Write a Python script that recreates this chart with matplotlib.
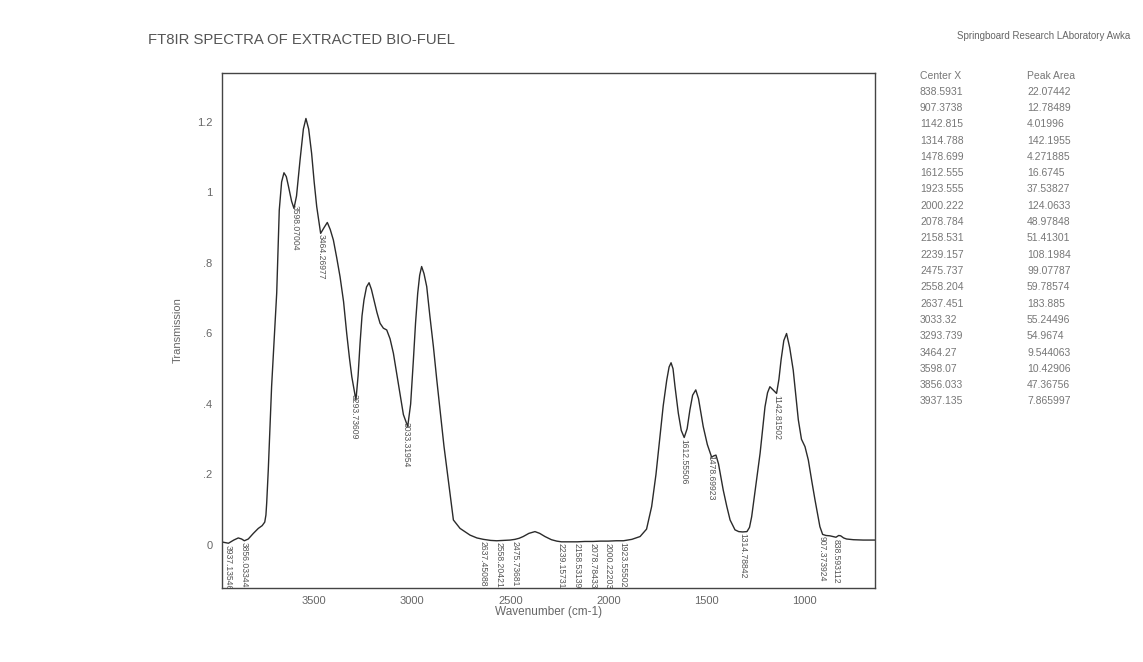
import matplotlib
matplotlib.use("Agg")
import matplotlib.pyplot as plt
import numpy as np

plt.rcParams['font.family'] = ['Liberation Sans', 'DejaVu Sans']

# spectrum (wavenumber, transmission)
wavenumber = [3965, 3937, 3910, 3887, 3870, 3856, 3836, 3810, 3785, 3765,
              3752, 3746, 3742, 3734, 3725, 3717, 3691, 3678, 3666, 3654,
              3642, 3632, 3615, 3603, 3590, 3572, 3555, 3542, 3528, 3513,
              3500, 3487, 3467, 3450, 3433, 3418, 3402, 3385, 3368, 3350,
              3334, 3320, 3308, 3287, 3276, 3266, 3256, 3246, 3233, 3220,
              3208, 3195, 3180, 3164, 3147, 3130, 3113, 3096, 3080, 3062,
              3045, 3023, 3008, 2994, 2983, 2972, 2962, 2952, 2940, 2926,
              2910, 2892, 2875, 2858, 2838, 2816, 2790, 2756, 2705, 2670,
              2637, 2600, 2569, 2530, 2501, 2476, 2455, 2434, 2405, 2374,
              2350, 2323, 2290, 2263, 2239, 2200, 2158, 2120, 2078, 2040,
              2000, 1960, 1923, 1880, 1838, 1805, 1779, 1757, 1737, 1720,
              1702, 1690, 1680, 1670, 1660, 1643, 1628, 1613, 1598, 1584,
              1570, 1554, 1540, 1528, 1516, 1495, 1473, 1462, 1451, 1438,
              1414, 1396, 1379, 1354, 1335, 1315, 1293, 1280, 1269, 1250,
              1226, 1212, 1201, 1188, 1176, 1160, 1142, 1130, 1119, 1105,
              1091, 1075, 1057, 1043, 1031, 1015, 997, 980, 962, 946,
              932, 921, 907, 890, 870, 855, 839, 825, 815, 800,
              785, 750, 700, 640]
transmission = [0.008, 0.005, 0.014, 0.020, 0.017, 0.012, 0.017, 0.033, 0.047, 0.055,
                0.065, 0.085, 0.120, 0.213, 0.340, 0.450, 0.715, 0.950, 1.030, 1.056,
                1.045, 1.020, 0.975, 0.955, 0.990, 1.092, 1.180, 1.210, 1.180, 1.111,
                1.030, 0.960, 0.884, 0.900, 0.915, 0.895, 0.865, 0.815, 0.761, 0.690,
                0.600, 0.530, 0.477, 0.411, 0.480, 0.572, 0.650, 0.695, 0.732, 0.744,
                0.725, 0.695, 0.660, 0.629, 0.615, 0.610, 0.585, 0.544, 0.490, 0.430,
                0.370, 0.336, 0.400, 0.525, 0.630, 0.714, 0.765, 0.790, 0.770, 0.733,
                0.650, 0.563, 0.470, 0.383, 0.280, 0.184, 0.071, 0.047, 0.028, 0.020,
                0.016, 0.013, 0.012, 0.013, 0.014, 0.016, 0.019, 0.024, 0.033, 0.038,
                0.033, 0.024, 0.015, 0.011, 0.009, 0.009, 0.009, 0.010, 0.010, 0.011,
                0.011, 0.012, 0.012, 0.016, 0.024, 0.045, 0.109, 0.200, 0.307, 0.395,
                0.468, 0.505, 0.517, 0.500, 0.450, 0.374, 0.325, 0.305, 0.330, 0.383,
                0.425, 0.440, 0.415, 0.375, 0.336, 0.285, 0.249, 0.253, 0.255, 0.230,
                0.156, 0.110, 0.071, 0.043, 0.038, 0.037, 0.038, 0.050, 0.080, 0.160,
                0.260, 0.335, 0.392, 0.432, 0.449, 0.440, 0.430, 0.470, 0.525, 0.580,
                0.600, 0.560, 0.496, 0.420, 0.355, 0.300, 0.279, 0.241, 0.180, 0.128,
                0.085, 0.052, 0.030, 0.027, 0.026, 0.024, 0.022, 0.027, 0.026, 0.020,
                0.017, 0.015, 0.014, 0.014]

# minima labelled on the trace
min_pos = [3937.13546, 3856.03344, 3598.07004, 3464.26977, 3293.73609, 3033.31954,
           2637.45088, 2558.20421, 2475.73681, 2239.15731, 2158.53139, 2078.78433,
           2000.22203, 1923.55502, 1612.55506, 1478.69923, 1314.78842, 1142.81502,
           907.373924, 838.593112]
min_text = ['3937.13546', '3856.03344', '3598.07004', '3464.26977', '3293.73609',
            '3033.31954', '2637.45088', '2558.20421', '2475.73681', '2239.15731',
            '2158.53139', '2078.78433', '2000.22203', '1923.55502', '1612.55506',
            '1478.69923', '1314.78842', '1142.81502', '907.373924', '838.593112']

# peak table
center_x = ['838.5931', '907.3738', '1142.815', '1314.788', '1478.699', '1612.555',
            '1923.555', '2000.222', '2078.784', '2158.531', '2239.157', '2475.737',
            '2558.204', '2637.451', '3033.32', '3293.739', '3464.27', '3598.07',
            '3856.033', '3937.135']
peak_area = ['22.07442', '12.78489', '4.01996', '142.1955', '4.271885', '16.6745',
             '37.53827', '124.0633', '48.97848', '51.41301', '108.1984', '99.07787',
             '59.78574', '183.885', '55.24496', '54.9674', '9.544063', '10.42906',
             '47.36756', '7.865997']

x_ticks = [3500, 3000, 2500, 2000, 1500, 1000]
y_ticks = [0, 0.2, 0.4, 0.6, 0.8, 1.0, 1.2]
y_tick_labels = ['0', '.2', '.4', '.6', '.8', '1', '1.2']

W, H = 1143, 662
fig = plt.figure(figsize=(W / 100, H / 100), dpi=100)
ax = fig.add_axes([222 / W, 1 - 588 / H, (875 - 222) / W, (588 - 73) / H])

ax.plot(wavenumber, transmission, color='#2b2b2b', lw=1.0)
ax.set_xlim(3970, 640)
ax.set_ylim(-0.122, 1.339)

ax.set_xticks(x_ticks)
ax.set_yticks(y_ticks)
ax.set_yticklabels(y_tick_labels)
ax.tick_params(axis='both', length=0, labelsize=8, labelcolor='#666666')
ax.tick_params(axis='y', pad=7)
ax.tick_params(axis='x', pad=6)
for s in ax.spines.values():
    s.set_color('#444444')
    s.set_linewidth(1.0)

ax.set_xlabel('Wavenumber (cm-1)', fontsize=8.5, color='#666666', labelpad=0)
ax.set_ylabel('Transmission', fontsize=8, color='#666666', labelpad=10)

# vertical labels under each minimum
for pos, txt in zip(min_pos, min_text):
    yv = np.interp(pos, wavenumber[::-1], transmission[::-1])
    ax.text(pos, yv - 0.004, txt, rotation=270, ha='center', va='top',
            fontsize=6.2, color='#555555', clip_on=True)

fig.text(148 / W, 1 - 40 / H, 'FT8IR SPECTRA OF EXTRACTED BIO-FUEL', fontsize=10.7,
         color='#555555', va='center', ha='left')
fig.text(1130 / W, 1 - 36 / H, 'Springboard Research LAboratory Awka', fontsize=7,
         color='#666666', va='center', ha='right')

# table on the right
row0 = 91.7
step = 16.3
fig.text(920 / W, 1 - 76 / H, 'Center X', fontsize=7.5, color='#777777', va='center')
fig.text(1027 / W, 1 - 76 / H, 'Peak Area', fontsize=7.5, color='#777777', va='center')
for i, (c, a) in enumerate(zip(center_x, peak_area)):
    yy = 1 - (row0 + i * step) / H
    fig.text(920 / W, yy, c, fontsize=7.5, color='#777777', va='center')
    fig.text(1027 / W, yy, a, fontsize=7.5, color='#777777', va='center')

fig.savefig('out.png', dpi=100)
